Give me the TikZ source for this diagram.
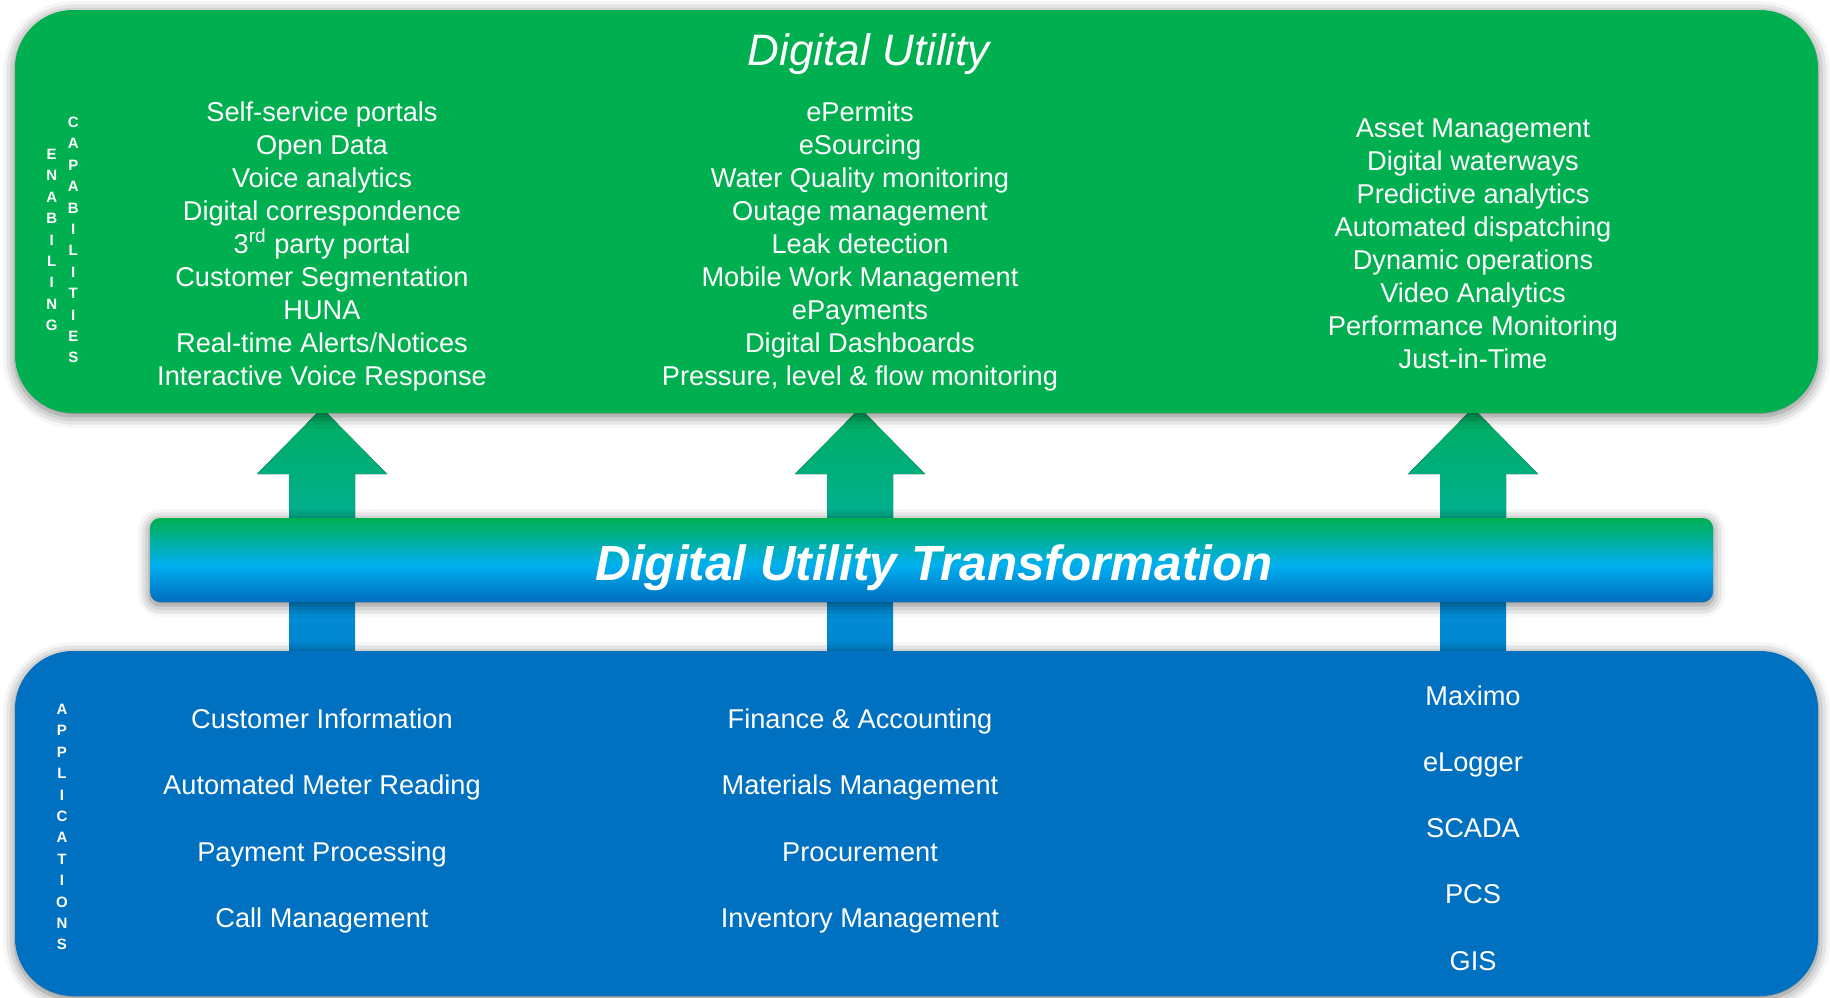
\documentclass[tikz,border=0pt]{standalone}
\usepackage{fontspec}
\setmainfont{Liberation Sans}
\usetikzlibrary{positioning,shadows.blur}

\definecolor{capgreen}{HTML}{00B050}
\definecolor{appblue}{HTML}{0070C0}
\definecolor{trcyan}{HTML}{00B0F0}
\definecolor{trblue}{HTML}{006CBE}
\definecolor{arrgreen}{HTML}{00AE5E}
\definecolor{arrteal}{HTML}{00AFA4}
\definecolor{shaftblue}{HTML}{0096DC}
\definecolor{shaftdark}{HTML}{0080CC}
\pgfdeclareverticalshading{trshade}{100bp}{color(0bp)=(trblue); color(25bp)=(trblue);
  color(47bp)=(trcyan); color(75bp)=(capgreen); color(100bp)=(capgreen)}

\begin{document}
\begin{tikzpicture}[
            x=0.5pt, y=-0.5pt,
            boxshadow/.style={blur shadow={shadow xshift=0pt, shadow yshift=-1.5pt,
            shadow blur radius=6pt, shadow opacity=55}},
            layer/.style={boxshadow, minimum width=901.5pt, inner sep=0pt,
            rounded corners=29pt},
            band/.style={boxshadow, shading=trshade, minimum width=781.5pt,
            minimum height=42pt, inner sep=0pt, rounded corners=5pt},
            items/.style={text=white, align=center,
            font=\fontsize{13.6}{16.5}\selectfont},
            apps/.style={text=white, align=center,
            font=\fontsize{13.6}{33.1}\selectfont},
            sidelbl/.style={text=white, align=center, inner sep=0pt,
            font=\bfseries\fontsize{7.5}{10.7}\selectfont}
        ]
\useasboundingbox (0,0) rectangle (1830,997);
\clip (0,0) rectangle (1830,997);

% --- block arrows, drawn first so the layers sit on top ---
\foreach \cx in {322,860,1473}{
  \fill[top color=shaftblue, bottom color=shaftdark] (\cx-33,570) rectangle (\cx+33,670);
  \fill[top color=arrgreen, bottom color=arrteal] (\cx,408) -- (\cx+65,474) -- (\cx+33,474)
    -- (\cx+33,560) -- (\cx-33,560) -- (\cx-33,474) -- (\cx-65,474) -- cycle;
}

% --- layers ---
\node[layer, fill=capgreen, minimum height=201.5pt] (cap) at (916.5,211.5) {};
\node[layer, fill=appblue, minimum height=172.5pt]  (app) at (916.5,823.5) {};
\node[band] (trans) at (931.5,560) {};

% --- top layer: enabling capabilities ---
\node[text=white, font=\itshape\fontsize{22}{26}\selectfont] (title) at (869,54) {Digital Utility};
\node[sidelbl] (enab) at (51.7,240) {E\\N\\A\\B\\I\\L\\I\\N\\G};
\node[sidelbl] (capab) at (73.3,240) {C\\A\\P\\A\\B\\I\\L\\I\\T\\I\\E\\S};
\node[items] (capl) at (322,246) {Self-service portals\\Open Data\\Voice analytics\\
  Digital correspondence\\3\textsuperscript{rd} party portal\\Customer Segmentation\\
  HUNA\\Real-time Alerts/Notices\\Interactive Voice Response};
\node[items] (capm) at (860,246) {ePermits\\eSourcing\\Water Quality monitoring\\
  Outage management\\Leak detection\\Mobile Work Management\\ePayments\\
  Digital Dashboards\\Pressure, level \& flow monitoring};
\node[items] (capr) at (1473,244) {Asset Management\\Digital waterways\\
  Predictive analytics\\Automated dispatching\\Dynamic operations\\Video Analytics\\
  Performance Monitoring\\Just-in-Time};

% --- middle band ---
\node[text=white, anchor=base, font=\bfseries\itshape\fontsize{24.7}{30}\selectfont]
  (translbl) at (934,580) {Digital Utility Transformation};

% --- bottom layer: applications ---
\node[sidelbl] (appl) at (62,827) {A\\P\\P\\L\\I\\C\\A\\T\\I\\O\\N\\S};
\node[apps] (appsl) at (322,821) {Customer Information\\Automated Meter Reading\\
  Payment Processing\\Call Management};
\node[apps] (appsm) at (860,821) {Finance \& Accounting\\Materials Management\\
  Procurement\\Inventory Management};
\node[apps] (appsr) at (1473,828) {Maximo\\eLogger\\SCADA\\PCS\\GIS};
\end{tikzpicture}
\end{document}
